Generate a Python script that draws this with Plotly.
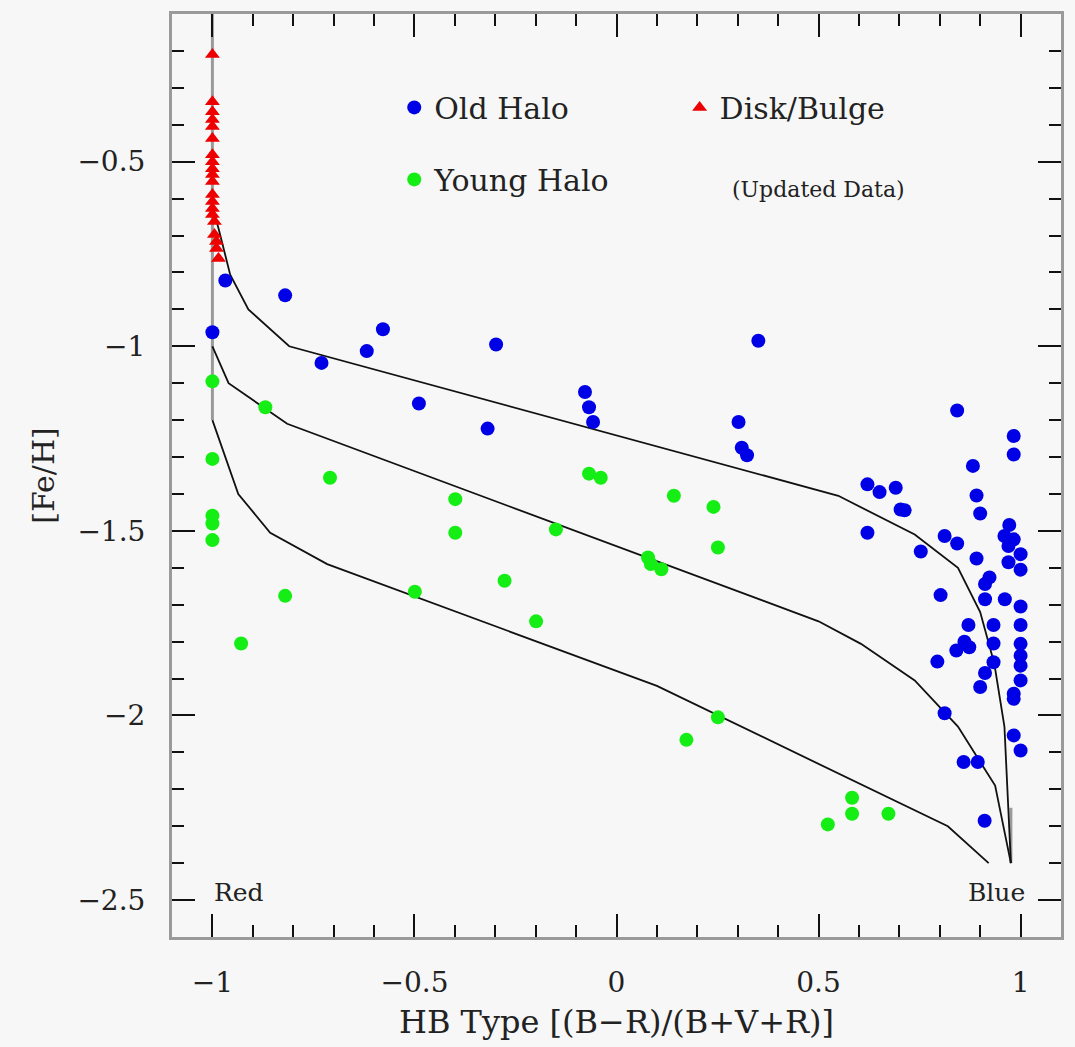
import plotly.graph_objects as go

# ---------------- data ----------------
old_halo_x = [-0.968, -0.82, -1.0, -0.578, -0.618, -0.73, -0.298, -0.489, -0.319,
              -0.078, -0.068, -0.058, 0.351, 0.302, 0.31, 0.323, 0.843, 0.983, 0.983,
              0.882, 0.621, 0.651, 0.691, 0.703, 0.713, 0.891, 0.90, 0.621, 0.812,
              0.843, 0.753, 0.891, 0.972, 0.96, 0.983, 0.97, 1.0, 0.97, 1.0, 0.923,
              0.912, 0.912, 0.961, 1.0, 0.802, 0.871, 0.933, 1.0, 0.861, 0.873, 0.841,
              0.933, 1.0, 1.0, 0.933, 1.0, 0.794, 0.912, 1.0, 0.90, 0.983, 0.983,
              0.812, 0.983, 1.0, 0.859, 0.894, 0.911]
old_halo_y = [-0.822, -0.862, -0.962, -0.954, -1.013, -1.045, -0.995, -1.155, -1.223,
              -1.124, -1.165, -1.205, -0.985, -1.205, -1.275, -1.295, -1.174, -1.243, -1.293,
              -1.324, -1.374, -1.395, -1.383, -1.442, -1.444, -1.404, -1.453, -1.505, -1.514,
              -1.534, -1.556, -1.575, -1.484, -1.514, -1.523, -1.541, -1.563, -1.585, -1.605, -1.626,
              -1.644, -1.685, -1.685, -1.705, -1.674, -1.755, -1.755, -1.755, -1.80, -1.815, -1.824,
              -1.805, -1.806, -1.838, -1.856, -1.865, -1.854, -1.885, -1.905, -1.923, -1.941, -1.955,
              -1.994, -2.054, -2.095, -2.126, -2.126, -2.285]

young_halo_x = [-1.0, -0.869, -1.0, -0.709, -0.399, -1.0, -1.0, -1.0, -0.399, -0.15,
                -0.068, -0.039, -0.82, -0.499, -0.277, -0.199, -0.929, 0.142, 0.24,
                0.251, 0.078, 0.085, 0.111, 0.251, 0.173, 0.583, 0.583, 0.673, 0.523]
young_halo_y = [-1.095, -1.165, -1.305, -1.356, -1.414, -1.459, -1.48, -1.525, -1.505, -1.496,
                -1.345, -1.356, -1.676, -1.665, -1.635, -1.745, -1.805, -1.405, -1.435,
                -1.545, -1.572, -1.59, -1.604, -2.005, -2.066, -2.223, -2.266, -2.266, -2.295]

disk_x = [-1.0, -1.0, -1.0, -1.0, -1.0, -1.0, -1.0, -1.0, -1.0, -1.0,
          -1.0, -1.0, -1.0, -1.0, -1.0, -0.995, -0.995, -0.99, -0.99, -0.985]
disk_y = [-0.21, -0.338, -0.365, -0.386, -0.405, -0.437, -0.481, -0.50, -0.519, -0.535,
          -0.554, -0.589, -0.608, -0.627, -0.643, -0.662, -0.697, -0.716, -0.735, -0.762]

# model sequences
model1_x = [-1.0, -0.985, -0.956, -0.911, -0.81, 0.549, 0.738, 0.845, 0.90, 0.935, 0.96, 0.976]
model1_y = [-0.62, -0.68, -0.806, -0.90, -1.0, -1.405, -1.51, -1.60, -1.72, -1.86, -2.03, -2.40]
model2_x = [-1.0, -0.96, -0.815, 0.5, 0.605, 0.738, 0.845, 0.937, 0.976]
model2_y = [-1.0, -1.10, -1.21, -1.745, -1.806, -1.905, -2.03, -2.19, -2.40]
model3_x = [-1.0, -0.936, -0.857, -0.716, 0.1, 0.82, 0.921]
model3_y = [-1.2, -1.40, -1.505, -1.59, -1.92, -2.30, -2.40]

# gray vertical limits
red_edge_x = [-1.0, -1.0]
red_edge_y = [-0.1, -1.2]
blue_edge_x = [0.976, 0.976]
blue_edge_y = [-2.25, -2.40]

x_range = [-1.1, 1.1]
y_range = [-2.6, -0.1]

FONT = "DejaVu Serif"
BG = "#f7f7f7"
FRAME = "#9a9a9a"

fig = go.Figure()

for vx, vy in [(red_edge_x, red_edge_y), (blue_edge_x, blue_edge_y)]:
    fig.add_trace(go.Scatter(x=vx, y=vy, mode="lines",
                             line=dict(color=FRAME, width=3),
                             showlegend=False, hoverinfo="skip"))

for mx, my in [(model1_x, model1_y), (model2_x, model2_y), (model3_x, model3_y)]:
    fig.add_trace(go.Scatter(x=mx, y=my, mode="lines",
                             line=dict(color="#111111", width=1.8),
                             showlegend=False, hoverinfo="skip"))

fig.add_trace(go.Scatter(x=old_halo_x, y=old_halo_y, mode="markers", name="Old Halo",
                         legendgroup="a", legend="legend",
                         marker=dict(color="#0000e6", size=14, line=dict(width=0))))
fig.add_trace(go.Scatter(x=young_halo_x, y=young_halo_y, mode="markers", name="Young Halo",
                         legendgroup="b", legend="legend",
                         marker=dict(color="#14ee14", size=14, line=dict(width=0))))
fig.add_trace(go.Scatter(x=disk_x, y=disk_y, mode="markers", name="Disk/Bulge",
                         legend="legend2",
                         marker=dict(color="#ee0000", size=13, symbol="triangle-up",
                                     line=dict(width=0))))

axis_common = dict(
    showgrid=False, zeroline=False,
    showline=True, linecolor=FRAME, linewidth=3, mirror="ticks",
    ticks="inside", ticklen=23, tickwidth=2, tickcolor="#111",
    dtick=0.5, tick0=0,
    minor=dict(ticks="inside", dtick=0.1, ticklen=12, tickwidth=2, tickcolor="#111"),
    tickfont=dict(family=FONT, size=28, color="#222"),
    ticklabelstandoff=18,
)

fig.update_xaxes(range=x_range, **axis_common,
                 title=dict(text="HB Type [(B\u2212R)/(B+V+R)]",
                            font=dict(family=FONT, size=32, color="#222"), standoff=14))
fig.update_yaxes(range=y_range, **axis_common,
                 title=dict(text="[Fe/H]", font=dict(family=FONT, size=30, color="#222"),
                            standoff=14))

legend_common = dict(
    bgcolor="rgba(0,0,0,0)", borderwidth=0,
    font=dict(family=FONT, size=30, color="#222"),
    xanchor="left", yanchor="top", tracegroupgap=30,
)
fig.update_layout(
    width=1075, height=1047,
    margin=dict(l=172, r=11, t=12, b=110),
    paper_bgcolor=BG, plot_bgcolor=BG,
    legend=dict(x=0.25, y=0.927, **legend_common),
    legend2=dict(x=0.571, y=0.927, **legend_common),
    annotations=[
        dict(x=-1.0, y=-2.48, xref="x", yref="y", text="Red", showarrow=False,
             xanchor="left", yanchor="middle", font=dict(family=FONT, size=25, color="#222")),
        dict(x=1.017, y=-2.48, xref="x", yref="y", text="Blue", showarrow=False,
             xanchor="right", yanchor="middle", font=dict(family=FONT, size=25, color="#222")),
        dict(x=0.282, y=-0.576, xref="x", yref="y", text="(Updated Data)", showarrow=False,
             xanchor="left", yanchor="middle", font=dict(family=FONT, size=22, color="#222")),
    ],
)

fig.write_html("out.html")
